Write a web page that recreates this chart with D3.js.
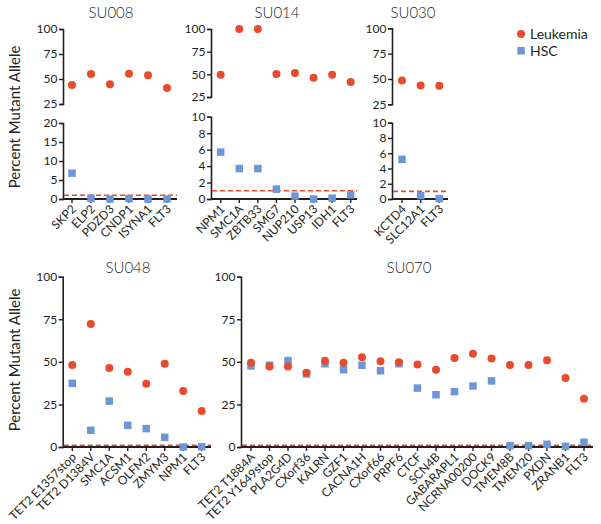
<!DOCTYPE html>
<html>
<head>
<meta charset="utf-8">
<script src="https://cdn.jsdelivr.net/npm/d3@7"></script>
<style>
  body { margin: 0; background: #fff; }
  svg text { font-family: Lato, "Open Sans", sans-serif; fill: #231f20; font-weight: 400; }
</style>
</head>
<body>
<svg id="chart" width="601" height="524"></svg>
<script>
// ---- data ----
const su008Genes = ["SKP2", "ELP2", "PDZD3", "CNDP1", "ISYNA1", "FLT3"];
const su008Leukemia = [44, 55, 44.7, 55.3, 53.7, 41];
const su008HSC = [6.8, 0.2, 0, 0.1, 0, 0];

const su014Genes = ["NPM1", "SMC1A", "ZBTB33", "SMG7", "NUP210", "USP13", "IDH1", "FLT3"];
const su014Leukemia = [49.5, 100, 100, 50.4, 51.5, 46.3, 49.6, 41.5];
const su014HSC = [5.7, 3.7, 3.7, 1.2, 0.35, 0, 0.1, 0.5];

const su030Genes = ["KCTD4", "SLC12A1", "FLT3"];
const su030Leukemia = [48.6, 43.5, 43.4];
const su030HSC = [5.2, 0.45, 0.05];

const su048Genes = ["TET2 E1357stop", "TET2 D1384V", "SMC1A", "ACSM1", "OLFM2", "ZMYM3", "NPM1", "FLT3"];
const su048Leukemia = [48.1, 72.2, 46.4, 44.2, 37.2, 48.9, 32.9, 21.1];
const su048HSC = [37.4, 9.8, 27, 12.7, 10.8, 5.7, 0, 0.2];

const su070Genes = ["TET2 T1884A", "TET2 Y1649stop", "PLA2G4D", "CXorf36", "KALRN", "GZF1", "CACNA1H",
  "CXorf66", "PRPF6", "CTCF", "SCN4B", "GABARAPL1", "NCRNA00200", "DOCK9", "TMEM8B", "TMEM20",
  "PXDN", "ZRANB1", "FLT3"];
const su070Leukemia = [49.5, 47.2, 47.2, 43.6, 50.7, 49.5, 52.7, 50.3, 49.7, 48.5, 45.4, 52.3,
  54.8, 51.9, 48.1, 48.1, 50.9, 40.5, 28.4];
const su070HSC = [47.6, 48, 50.7, 42.9, 48.9, 45.4, 48, 44.8, 48.9, 34.6, 30.7, 32.5, 35.8, 38.8,
  0.8, 0.8, 1.6, 0.4, 2.8];

const upperTicks = [25, 50, 75, 100];
const su008LowerTicks = [0, 5, 10, 15, 20];
const tenLowerTicks = [0, 2, 4, 6, 8, 10];
const fullTicks = [0, 25, 50, 75, 100];
const threshold = 1;
const seriesNames = ["Leukemia", "HSC"];
const yLabel = "Percent Mutant Allele";

// ---- style ----
const RED = "#ea4a2c";
const BLUE = "#6d96d8";
const INK = "#231f20";
const FONT = "Lato, 'Open Sans', sans-serif";

const svg = d3.select("#chart");

function drawYAxis(g, scale, ticks, x) {
  const ax = g.append("g").attr("transform", `translate(${x},0)`)
    .call(d3.axisLeft(scale).tickValues(ticks).tickSize(4).tickPadding(1.5).tickFormat(d3.format("d")));
  ax.select(".domain").attr("stroke", INK).attr("stroke-width", 1.6);
  ax.selectAll(".tick line").attr("stroke", INK).attr("stroke-width", 1.4);
  ax.selectAll(".tick text").attr("font-size", 12).attr("fill", INK)
    .style("font-family", FONT).style("font-weight", 400);
  return ax;
}

function drawPanel(p) {
  const g = svg.append("g");
  const x = d3.scalePoint().domain(p.genes).range([p.x0, p.x1]);
  const lower = d3.scaleLinear().domain(p.lowerDomain).range(p.lowerRange);
  const upper = p.upperDomain ? d3.scaleLinear().domain(p.upperDomain).range(p.upperRange) : null;
  const axisY = p.lowerRange[0];

  // title
  g.append("text").attr("x", p.titleX).attr("y", p.titleY).attr("text-anchor", "middle")
    .attr("font-size", 15).style("font-weight", 300).text(p.title);

  // y axes
  drawYAxis(g, lower, p.lowerTicks, p.axisX);
  if (upper) drawYAxis(g, upper, upperTicks, p.axisX);

  // x axis
  g.append("line").attr("x1", p.axisX).attr("x2", p.axisEnd).attr("y1", axisY).attr("y2", axisY)
    .attr("stroke", INK).attr("stroke-width", 1.8);
  p.genes.forEach(gn => {
    g.append("line").attr("x1", x(gn)).attr("x2", x(gn)).attr("y1", axisY).attr("y2", axisY + 4)
      .attr("stroke", INK).attr("stroke-width", 1.4);
    g.append("text").attr("transform", `translate(${x(gn) + 1},${axisY + 7}) rotate(-45)`)
      .attr("text-anchor", "end").attr("dy", "0.45em").attr("font-size", 12).text(gn);
  });

  // threshold dashed line
  g.append("line").attr("x1", p.axisX + 1).attr("x2", p.axisEnd)
    .attr("y1", lower(threshold)).attr("y2", lower(threshold))
    .attr("stroke", RED).attr("stroke-width", 1.6).attr("stroke-dasharray", "5,3");

  const yOf = v => (upper && v >= p.upperDomain[0]) ? upper(v) : lower(Math.max(0, v));

  // HSC squares
  const s = 7.5;
  g.selectAll(".hsc").data(p.hsc).join("rect")
    .attr("x", (d, i) => x(p.genes[i]) - s / 2).attr("y", d => yOf(d) - s / 2)
    .attr("width", s).attr("height", s).attr("fill", BLUE);
  // Leukemia circles
  g.selectAll(".leuk").data(p.leuk).join("circle")
    .attr("cx", (d, i) => x(p.genes[i])).attr("cy", d => yOf(d)).attr("r", 4)
    .attr("fill", RED);

  if (p.yLabelY) {
    g.append("text").attr("transform", `translate(20,${p.yLabelY}) rotate(-90)`)
      .attr("text-anchor", "middle").attr("font-size", 15).text(yLabel);
  }
}

const panels = [
  { title: "SU008", titleX: 111, titleY: 18, genes: su008Genes, leuk: su008Leukemia, hsc: su008HSC,
    axisX: 63, axisEnd: 177, x0: 72, x1: 167,
    upperDomain: [25, 100], upperRange: [104, 29], lowerDomain: [0, 20], lowerRange: [199, 123],
    lowerTicks: su008LowerTicks, yLabelY: 117 },
  { title: "SU014", titleX: 277, titleY: 18, genes: su014Genes, leuk: su014Leukemia, hsc: su014HSC,
    axisX: 211, axisEnd: 357, x0: 220.7, x1: 350.7,
    upperDomain: [25, 100], upperRange: [97, 29], lowerDomain: [0, 10], lowerRange: [199, 116.7],
    lowerTicks: tenLowerTicks },
  { title: "SU030", titleX: 413, titleY: 18, genes: su030Genes, leuk: su030Leukemia, hsc: su030HSC,
    axisX: 392, axisEnd: 448, x0: 402, x1: 439.3,
    upperDomain: [25, 100], upperRange: [104.3, 28.3], lowerDomain: [0, 10], lowerRange: [199, 122.7],
    lowerTicks: tenLowerTicks },
  { title: "SU048", titleX: 128, titleY: 273, genes: su048Genes, leuk: su048Leukemia, hsc: su048HSC,
    axisX: 62.7, axisEnd: 211, x0: 72.3, x1: 201.7,
    lowerDomain: [0, 100], lowerRange: [447, 276.7], lowerTicks: fullTicks, yLabelY: 360 },
  { title: "SU070", titleX: 409, titleY: 273, genes: su070Genes, leuk: su070Leukemia, hsc: su070HSC,
    axisX: 241, axisEnd: 593, x0: 251, x1: 584,
    lowerDomain: [0, 100], lowerRange: [447, 276.7], lowerTicks: fullTicks }
];
panels.forEach(drawPanel);

// legend
const lg = svg.append("g");
lg.append("circle").attr("cx", 521).attr("cy", 34).attr("r", 4).attr("fill", RED);
lg.append("rect").attr("x", 517.3).attr("y", 47).attr("width", 7.5).attr("height", 7.5).attr("fill", BLUE);
lg.append("text").attr("x", 530).attr("y", 38.8).attr("font-size", 14).text(seriesNames[0]);
lg.append("text").attr("x", 530).attr("y", 55.8).attr("font-size", 14).text(seriesNames[1]);
</script>
</body>
</html>
